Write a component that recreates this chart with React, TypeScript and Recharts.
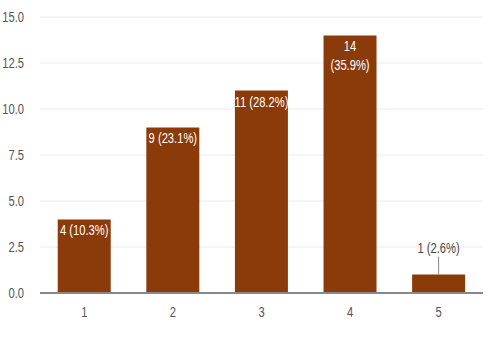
import React from 'react';
import { BarChart, Bar, XAxis, YAxis, CartesianGrid, LabelList } from 'recharts';

const categories = ['1', '2', '3', '4', '5'];
const counts = [4, 9, 11, 14, 1];
const yTicks = [0, 2.5, 5, 7.5, 10, 12.5, 15];
const wrappedLabels = ['4'];

const total = counts.reduce((a, b) => a + b, 0);
const data = categories.map((c, i) => ({
  name: c,
  value: counts[i],
  pct: ((counts[i] / total) * 100).toFixed(1),
}));

const FONT = '"Liberation Sans", Arial, sans-serif';
const SQUEEZE = 0.8;

// narrow text: Arial squeezed horizontally to look like Arial Narrow
const Narrow = ({ x, y, fill, anchor = 'middle', children }: any) => (
  <text
    transform={`translate(${x},${y}) scale(${SQUEEZE},1)`}
    textAnchor={anchor}
    fill={fill}
    fontSize={14}
    fontFamily={FONT}
  >
    {children}
  </text>
);

const XTick = (props: any) => {
  const { x, y, payload } = props;
  return <Narrow x={x} y={y + 16} fill="#555">{payload.value}</Narrow>;
};

const YTick = (props: any) => {
  const { x, y, payload } = props;
  return (
    <Narrow x={x} y={y + 5} fill="#555" anchor="end">
      {Number(payload.value).toFixed(1)}
    </Narrow>
  );
};

const BarLabel = (props: any) => {
  const { x, y, width, height, index } = props;
  const d = data[index];
  const cx = x + width / 2;
  const text = `${d.value} (${d.pct}%)`;
  if (height < 25) {
    return (
      <g>
        <line x1={cx} y1={y - 18} x2={cx} y2={y} stroke="#888" strokeWidth={1} />
        <Narrow x={cx} y={y - 22} fill="#444">{text}</Narrow>
      </g>
    );
  }
  if (wrappedLabels.includes(d.name)) {
    return (
      <g>
        <Narrow x={cx} y={y + 16} fill="#fff">{d.value}</Narrow>
        <Narrow x={cx} y={y + 35} fill="#fff">({d.pct}%)</Narrow>
      </g>
    );
  }
  return <Narrow x={cx} y={y + 16} fill="#fff">{text}</Narrow>;
};

export default function App() {
  return (
    <div style={{ position: 'absolute', left: 0, top: 0, background: '#fff' }}>
      <BarChart
        width={491}
        height={340}
        data={data}
        margin={{ top: 17, right: 8, bottom: 17, left: 0 }}
        barCategoryGap="20%"
      >
        <CartesianGrid vertical={false} stroke="#ececec" />
        <XAxis
          dataKey="name"
          height={30}
          axisLine={{ stroke: '#888', strokeWidth: 2 }}
          tickLine={false}
          tick={<XTick />}
        />
        <YAxis
          width={40}
          domain={[0, 15]}
          ticks={yTicks}
          axisLine={false}
          tickLine={false}
          tick={<YTick />}
          tickMargin={10}
        />
        <Bar dataKey="value" fill="#8b3a0a" isAnimationActive={false}>
          <LabelList dataKey="value" content={<BarLabel />} />
        </Bar>
      </BarChart>
    </div>
  );
}
